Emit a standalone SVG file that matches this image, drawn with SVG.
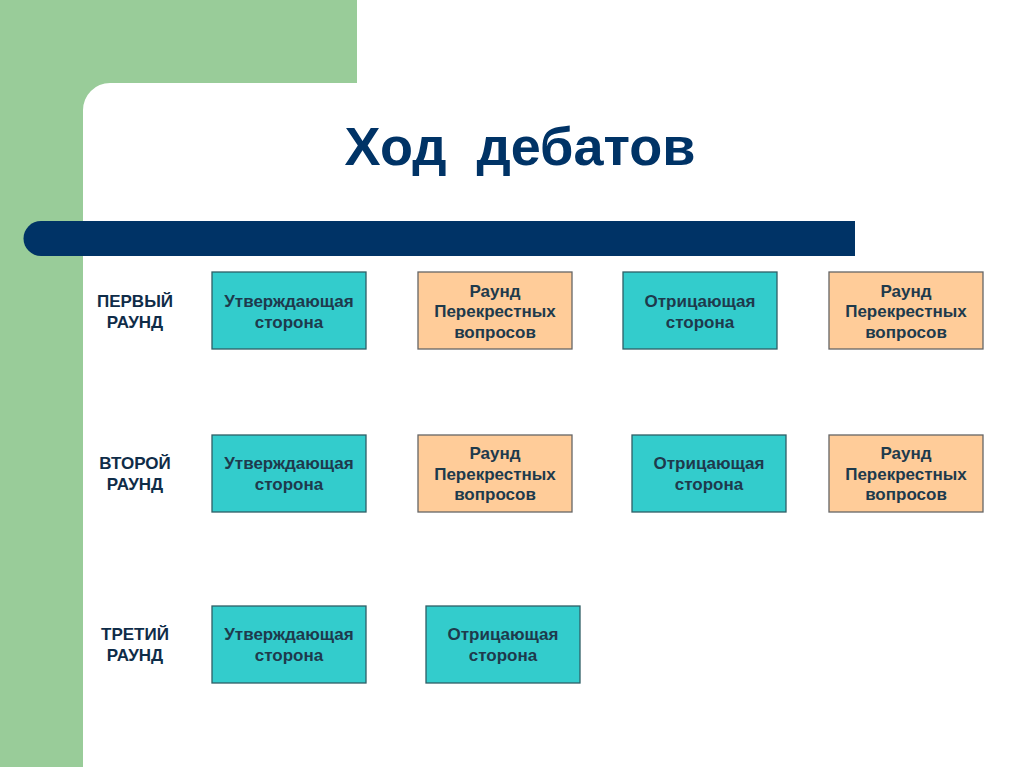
<svg xmlns="http://www.w3.org/2000/svg" width="1024" height="767" viewBox="0 0 1024 767">
<style>
.t{font-family:"Liberation Sans",Arial,sans-serif;font-weight:bold;font-size:17px;fill:#1E3A4C;text-anchor:middle}
.l{font-family:"Liberation Sans",Arial,sans-serif;font-weight:bold;font-size:17px;fill:#0F2C48;text-anchor:middle}
.teal{fill:#33CCCC;stroke:#2F5F66;stroke-width:1.3}
.or{fill:#FFCC99;stroke:#666666;stroke-width:1.3}
</style>
<rect width="1024" height="767" fill="#ffffff"/>
<g id="background">
<rect x="0" y="0" width="357" height="83" fill="#99CC99"/>
<rect x="0" y="0" width="83" height="767" fill="#99CC99"/>
<path d="M83 83 L110 83 A27 27 0 0 0 83 110 Z" fill="#99CC99"/>
<path d="M41 221 L855 221 L855 256 L41 256 A17.5 17.5 0 0 1 41 221 Z" fill="#003366"/>
</g>
<g id="title"><text x="520" y="165" font-family="Liberation Sans,Arial,sans-serif" font-weight="bold" font-size="54" fill="#003366" text-anchor="middle" xml:space="preserve">Ход  дебатов</text></g>
<g id="labels">
<text class="l" x="135" y="307">ПЕРВЫЙ</text><text class="l" x="135" y="328">РАУНД</text>
<text class="l" x="135" y="469">ВТОРОЙ</text><text class="l" x="135" y="490">РАУНД</text>
<text class="l" x="135" y="640">ТРЕТИЙ</text><text class="l" x="135" y="661">РАУНД</text>
</g>
<g id="r1a"><rect class="teal" x="212" y="272" width="154" height="77"/><text class="t" x="289" y="307">Утверждающая</text><text class="t" x="289" y="328">сторона</text></g>
<g id="r1b"><rect class="or" x="418" y="272" width="154" height="77"/><text class="t" x="495" y="297">Раунд</text><text class="t" x="495" y="317">Перекрестных</text><text class="t" x="495" y="338">вопросов</text></g>
<g id="r1c"><rect class="teal" x="623" y="272" width="154" height="77"/><text class="t" x="700" y="307">Отрицающая</text><text class="t" x="700" y="328">сторона</text></g>
<g id="r1d"><rect class="or" x="829" y="272" width="154" height="77"/><text class="t" x="906" y="297">Раунд</text><text class="t" x="906" y="317">Перекрестных</text><text class="t" x="906" y="338">вопросов</text></g>
<g id="r2a"><rect class="teal" x="212" y="435" width="154" height="77"/><text class="t" x="289" y="469">Утверждающая</text><text class="t" x="289" y="490">сторона</text></g>
<g id="r2b"><rect class="or" x="418" y="435" width="154" height="77"/><text class="t" x="495" y="459">Раунд</text><text class="t" x="495" y="480">Перекрестных</text><text class="t" x="495" y="500">вопросов</text></g>
<g id="r2c"><rect class="teal" x="632" y="435" width="154" height="77"/><text class="t" x="709" y="469">Отрицающая</text><text class="t" x="709" y="490">сторона</text></g>
<g id="r2d"><rect class="or" x="829" y="435" width="154" height="77"/><text class="t" x="906" y="459">Раунд</text><text class="t" x="906" y="480">Перекрестных</text><text class="t" x="906" y="500">вопросов</text></g>
<g id="r3a"><rect class="teal" x="212" y="606" width="154" height="77"/><text class="t" x="289" y="640">Утверждающая</text><text class="t" x="289" y="661">сторона</text></g>
<g id="r3b"><rect class="teal" x="426" y="606" width="154" height="77"/><text class="t" x="503" y="640">Отрицающая</text><text class="t" x="503" y="661">сторона</text></g>
<g id="connectors"/>
</svg>
